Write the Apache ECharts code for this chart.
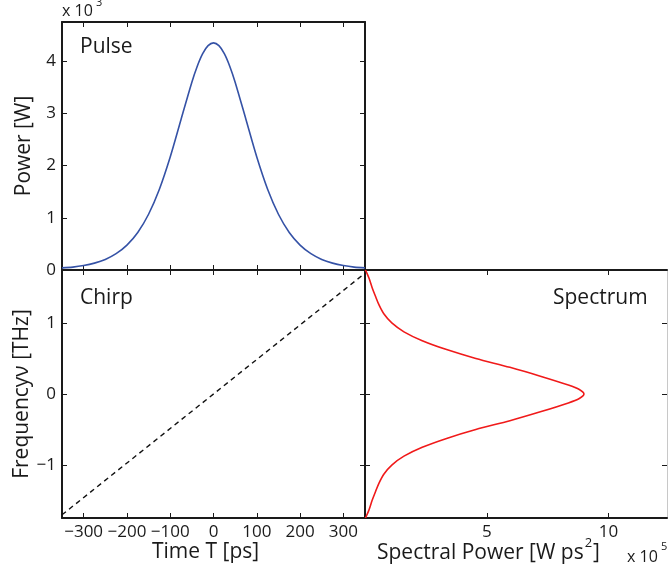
<!DOCTYPE html>
<html>
<head>
<meta charset="utf-8">
<script src="https://cdn.jsdelivr.net/npm/echarts@6/dist/echarts.min.js"></script>
<style>
  html, body { margin: 0; padding: 0; background: #fff; }
  #chart { width: 668px; height: 574px; }
</style>
</head>
<body>
<div id="chart"></div>
<script>
// ---- data ----
const times = [-350,-325,-300,-275,-250,-225,-200,-175,-150,-125,-100,-75,-50,-37.5,-25,-12.5,0,12.5,25,37.5,50,75,100,125,150,175,200,225,250,275,300,325,350];
const pulsePower = [40,55,85,132,203,313,477,719,1068,1547,2164,2883,3598,3904,4144,4297,4350,4297,4144,3904,3598,2883,2164,1547,1068,719,477,313,203,132,85,55,40];

const chirpTimes = [-350, 350];
const chirpFreq = [-1.70, 1.70];

const specFreq = [-1.745,-1.70,-1.625,-1.5,-1.375,-1.25,-1.125,-1.0,-0.875,-0.75,-0.625,-0.5,-0.375,-0.25,-0.125,-0.0625,0,0.0625,0.125,0.25,0.375,0.5,0.625,0.75,0.875,1.0,1.125,1.25,1.375,1.5,1.625,1.70,1.745];
const specPower = [2000,8000,17000,29000,43000,58000,78000,110000,160000,235000,335000,455000,595000,720000,835000,880000,899000,880000,835000,720000,595000,455000,335000,235000,160000,110000,78000,58000,43000,29000,17000,8000,2000];

const timeTicks = [-300,-200,-100,0,100,200,300];
const powerTicks = [0,1000,2000,3000,4000];
const freqTicks = [-1,0,1];
const specTicks = [500000,1000000];

// ---- chart ----
const FONT = 'Open Sans';
const INK = '#1a1a1a';
const fmtMinus = v => (v < 0 ? '\u2212' + Math.abs(v) : String(v));

function axis(o) {
  const a = {
    type: 'value',
    gridIndex: o.grid,
    position: o.position,
    min: o.min, max: o.max,
    splitLine: { show: false },
    axisLine: { show: true, onZero: false, lineStyle: { color: o.lineColor || INK, width: o.lineWidth || 2 } },
    axisTick: { show: true, inside: true, length: 5, lineStyle: { color: INK, width: 1 }, customValues: o.ticks },
    axisLabel: o.labels ? {
      show: true, customValues: o.labels, formatter: o.fmt, fontSize: 17, color: INK, fontFamily: FONT, margin: o.margin || 6
    } : { show: false }
  };
  if (o.name) {
    a.name = o.name;
    a.nameLocation = 'middle';
    a.nameGap = o.nameGap;
    a.nameTextStyle = { fontSize: 21, color: INK, fontFamily: FONT };
  }
  return a;
}

const option = {
  animation: false,
  backgroundColor: '#fff',
  grid: [
    { left: 62, top: 22, width: 303, height: 248 },
    { left: 62, top: 270, width: 303, height: 248 },
    { left: 365, top: 270, width: 302, height: 248 }
  ],
  xAxis: [
    axis({ grid: 0, position: 'bottom', min: -350, max: 350, ticks: timeTicks }),
    axis({ grid: 0, position: 'top', min: -350, max: 350, ticks: timeTicks }),
    axis({ grid: 1, position: 'bottom', min: -350, max: 350, ticks: timeTicks, labels: timeTicks, fmt: fmtMinus }),
    axis({ grid: 1, position: 'top', min: -350, max: 350, ticks: timeTicks }),
    axis({ grid: 2, position: 'bottom', min: 0, max: 1240000, ticks: specTicks, labels: specTicks, fmt: v => String(v / 100000) }),
    axis({ grid: 2, position: 'top', min: 0, max: 1240000, ticks: specTicks })
  ],
  yAxis: [
    axis({ grid: 0, position: 'left', min: 0, max: 4750, ticks: powerTicks, labels: powerTicks, fmt: v => String(v / 1000), name: 'Power [W]', nameGap: 27 }),
    axis({ grid: 0, position: 'right', min: 0, max: 4750, ticks: powerTicks }),
    axis({ grid: 1, position: 'left', min: -1.745, max: 1.745, ticks: freqTicks, labels: freqTicks, fmt: fmtMinus, name: 'Frequency\u03BD [THz]', nameGap: 27 }),
    axis({ grid: 1, position: 'right', min: -1.745, max: 1.745, ticks: freqTicks }),
    axis({ grid: 2, position: 'left', min: -1.745, max: 1.745, ticks: freqTicks }),
    axis({ grid: 2, position: 'right', min: -1.745, max: 1.745, ticks: freqTicks, lineColor: '#c8c8c8', lineWidth: 1 })
  ],
  series: [
    {
      type: 'line', xAxisIndex: 0, yAxisIndex: 0, showSymbol: false, smooth: 0.3,
      data: times.map((t, i) => [t, pulsePower[i]]),
      lineStyle: { color: '#3552a6', width: 1.6 }
    },
    {
      type: 'line', xAxisIndex: 2, yAxisIndex: 2, showSymbol: false,
      data: chirpTimes.map((t, i) => [t, chirpFreq[i]]),
      lineStyle: { color: '#111', width: 1.4, type: [5, 4] }
    },
    {
      type: 'line', xAxisIndex: 4, yAxisIndex: 4, showSymbol: false, smooth: 0.3,
      data: specFreq.map((f, i) => [specPower[i], f]),
      lineStyle: { color: '#f01a1a', width: 1.6 }
    }
  ],
  graphic: [
    { type: 'text', left: 80, top: 37, style: { text: 'Pulse', fontSize: 21, fontFamily: FONT, fill: INK } },
    { type: 'text', left: 80, top: 288, style: { text: 'Chirp', fontSize: 21, fontFamily: FONT, fill: INK } },
    { type: 'text', left: 553, top: 288, style: { text: 'Spectrum', fontSize: 21, fontFamily: FONT, fill: INK } },
    { type: 'text', left: 152, top: 542, style: { text: 'Time T [ps]', fontSize: 21, fontFamily: FONT, fill: INK } },
    { type: 'text', left: 377, top: 537, style: {
        text: '{a|Spectral Power [W ps}{s|2}{a|]}',
        fontFamily: FONT, fill: INK,
        rich: {
          a: { fontSize: 21, fontFamily: FONT, lineHeight: 27, verticalAlign: 'bottom' },
          s: { fontSize: 13, fontFamily: FONT, lineHeight: 27, verticalAlign: 'top', padding: [0, 1, 0, 1] }
        }
      } },
    { type: 'text', left: 62, top: 3, style: { text: 'x 10', fontSize: 16, fontFamily: FONT, fill: INK } },
    { type: 'text', left: 96, top: -3, style: { text: '3', fontSize: 11, fontFamily: FONT, fill: INK } },
    { type: 'text', left: 627, top: 549, style: { text: 'x 10', fontSize: 16, fontFamily: FONT, fill: INK } },
    { type: 'text', left: 661, top: 541, style: { text: '5', fontSize: 11, fontFamily: FONT, fill: INK } }
  ]
};

const chart = echarts.init(document.getElementById('chart'), null, { renderer: 'canvas' });
chart.setOption(option);
</script>
</body>
</html>
